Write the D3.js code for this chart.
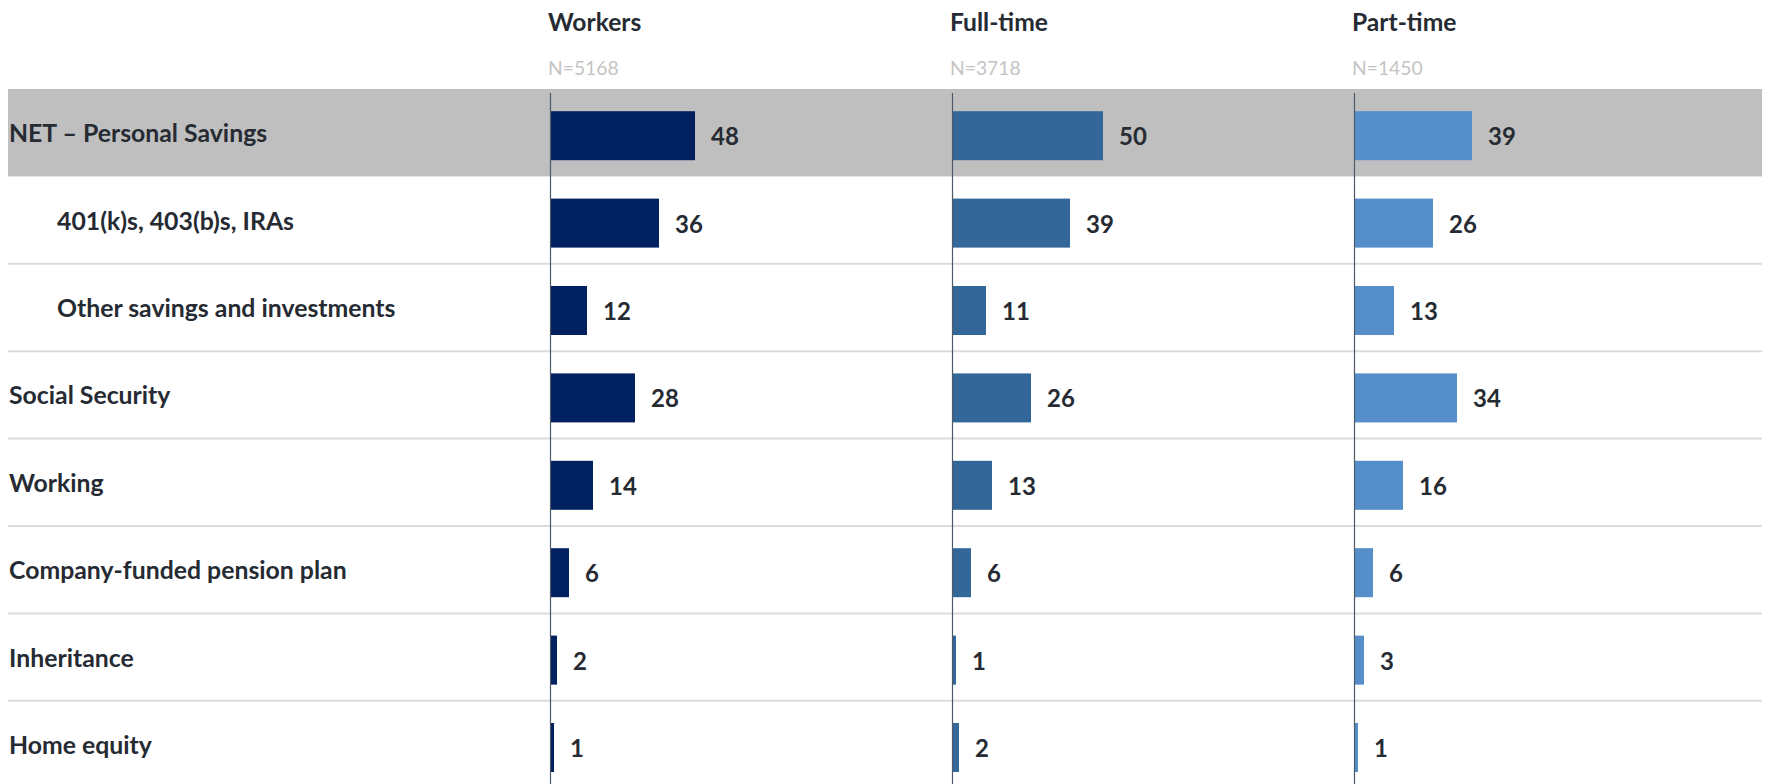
<!DOCTYPE html>
<html>
<head>
<meta charset="utf-8">
<script src="https://cdn.jsdelivr.net/npm/d3@7"></script>
<style>
  html, body { margin: 0; padding: 0; background: #fff; }
  svg { display: block; }
  text { font-family: Lato, "Open Sans", sans-serif; }
</style>
</head>
<body>
<svg id="chart" width="1765" height="784"></svg>
<script>
const categories = [
  "NET – Personal Savings",
  "401(k)s, 403(b)s, IRAs",
  "Other savings and investments",
  "Social Security",
  "Working",
  "Company-funded pension plan",
  "Inheritance",
  "Home equity"
];
const indented = [false, true, true, false, false, false, false, false];
const highlighted = [true, false, false, false, false, false, false, false];
const seriesNames = ["Workers", "Full-time", "Part-time"];
const sampleSizes = ["N=5168", "N=3718", "N=1450"];
const workers  = [48, 36, 12, 28, 14, 6, 2, 1];
const fullTime = [50, 39, 11, 26, 13, 6, 1, 2];
const partTime = [39, 26, 13, 34, 16, 6, 3, 1];
const seriesValues = [workers, fullTime, partTime];
const seriesColors = ["#002060", "#336699", "#558ec8"];

const W = 1765, H = 784;
const svg = d3.select("#chart");

const rowTop = 89, rowStep = 87.4;
const y = d3.scaleBand().domain(categories)
  .range([rowTop, rowTop + rowStep * categories.length]).padding(0);
const col = d3.scaleBand().domain(seriesNames).range([550, 550 + 402 * 3]).padding(0);
const x = d3.scaleLinear().domain([0, 134]).range([0, 402]);

const left = 8, right = 1762;
const barH = 49;
const textColor = "#262b33";

// highlight band
svg.selectAll("rect.hl").data(categories.filter((c, i) => highlighted[i]))
  .join("rect").attr("class", "hl")
  .attr("x", left).attr("width", right - left)
  .attr("y", d => y(d)).attr("height", y.bandwidth())
  .attr("fill", "#bfbfbf");

// separators
svg.selectAll("line.sep").data(categories.filter((c, i) => i >= 2))
  .join("line").attr("class", "sep")
  .attr("x1", left).attr("x2", right)
  .attr("y1", d => y(d)).attr("y2", d => y(d))
  .attr("stroke", "#dcdcdc").attr("stroke-width", 2);

// category labels
svg.selectAll("text.cat").data(categories)
  .join("text").attr("class", "cat")
  .attr("x", (d, i) => indented[i] ? 57 : 9)
  .attr("y", d => y(d) + y.bandwidth() / 2)
  .attr("dominant-baseline", "central")
  .attr("font-size", 24.8).attr("font-weight", 700)
  .attr("fill", textColor)
  .text(d => d);

seriesNames.forEach((name, si) => {
  const x0 = col(name);
  const g = svg.append("g");
  // header
  g.append("text")
    .attr("x", x0 - 2).attr("y", 21)
    .attr("dominant-baseline", "central")
    .attr("font-size", 24.6).attr("font-weight", 700)
    .attr("fill", textColor).text(name);
  g.append("text")
    .attr("x", x0 - 2).attr("y", 67)
    .attr("dominant-baseline", "central")
    .attr("font-size", 19.3).attr("font-weight", 400)
    .attr("fill", "#c4c4c4").text(sampleSizes[si]);

  const data = categories.map((c, i) => ({c, v: seriesValues[si][i]}));
  g.selectAll("rect.bar").data(data).join("rect").attr("class", "bar")
    .attr("x", x0 + 1).attr("y", d => y(d.c) + (y.bandwidth() - barH) / 2 + 3)
    .attr("width", d => x(d.v)).attr("height", barH)
    .attr("fill", seriesColors[si]);
  g.selectAll("text.val").data(data).join("text").attr("class", "val")
    .attr("x", d => x0 + 1 + x(d.v) + 16)
    .attr("y", d => y(d.c) + y.bandwidth() / 2 + 3)
    .attr("dominant-baseline", "central")
    .attr("font-size", 24).attr("font-weight", 700)
    .attr("fill", textColor).text(d => d.v);

  // axis line
  g.append("line")
    .attr("x1", x0 + 0.5).attr("x2", x0 + 0.5)
    .attr("y1", 93).attr("y2", H)
    .attr("stroke", "#4f5968").attr("stroke-width", 1.2);
});
</script>
</body>
</html>
